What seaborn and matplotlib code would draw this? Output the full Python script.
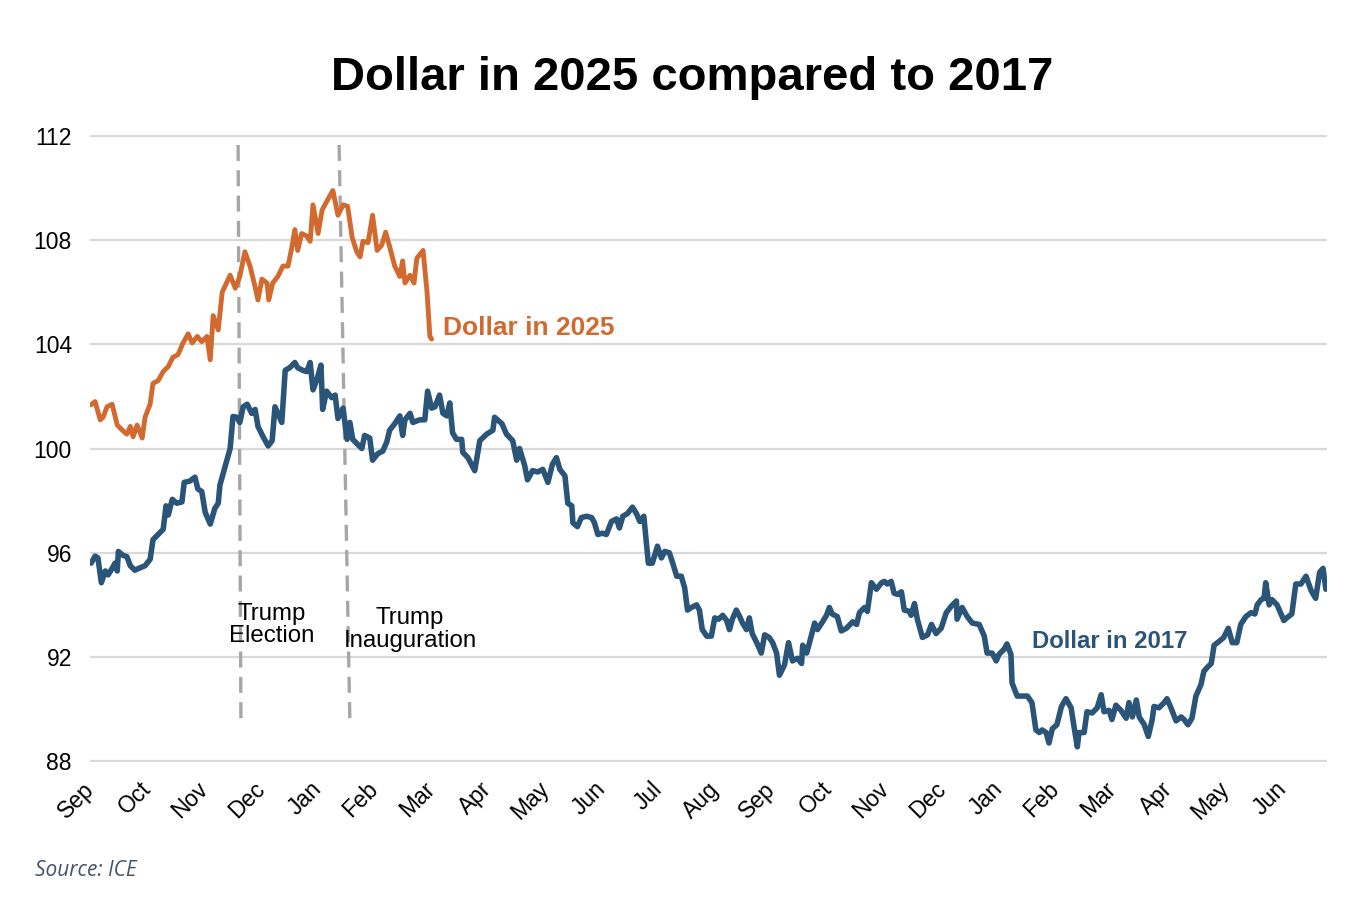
import matplotlib
matplotlib.use("Agg")
import matplotlib.pyplot as plt
import matplotlib.transforms as mtransforms
import pandas as pd
import seaborn as sns

# x positions are in months since the start of September (Sep = 0)
months = ["Sep", "Oct", "Nov", "Dec", "Jan", "Feb", "Mar", "Apr", "May", "Jun", "Jul",
          "Aug", "Sep", "Oct", "Nov", "Dec", "Jan", "Feb", "Mar", "Apr", "May", "Jun"]

# Dollar in 2025 (DXY, Sep 2024 - Mar 2025)
m2025 = [0.00, 0.07, 0.16, 0.21, 0.28, 0.37, 0.46, 0.55, 0.63, 0.69, 0.74, 0.81, 0.90, 0.95,
         1.04, 1.09, 1.18, 1.27, 1.36, 1.44, 1.53, 1.62, 1.71, 1.78, 1.87, 1.95, 2.04, 2.10,
         2.15, 2.24, 2.31, 2.45, 2.54, 2.62, 2.71, 2.80, 2.89, 2.94, 3.01, 3.10, 3.13, 3.20,
         3.29, 3.38, 3.47, 3.54, 3.59, 3.64, 3.71, 3.80, 3.86, 3.91, 4.00, 4.07, 4.17, 4.26,
         4.35, 4.44, 4.52, 4.60, 4.68, 4.74, 4.79, 4.88, 4.96, 5.04, 5.12, 5.19, 5.26, 5.35,
         5.44, 5.49, 5.53, 5.62, 5.69, 5.74, 5.85, 5.92, 5.97, 6.00]
dxy2025 = [101.68, 101.8, 101.1, 101.2, 101.6, 101.7, 100.9, 100.7, 100.55, 100.85, 100.45,
           100.9, 100.4, 101.2, 101.7, 102.5, 102.6, 102.95, 103.15, 103.5, 103.6, 104.05,
           104.4, 104.05, 104.3, 104.1, 104.3, 103.4, 105.1, 104.55, 106.0, 106.65, 106.15,
           106.6, 107.55, 107.0, 106.2, 105.7, 106.5, 106.35, 105.7, 106.35, 106.6, 107.0,
           107.0, 107.75, 108.4, 107.6, 108.25, 108.15, 107.95, 109.35, 108.25, 109.15,
           109.55, 109.9, 108.95, 109.35, 109.3, 108.1, 107.55, 107.35, 107.95, 107.9,
           108.95, 107.6, 107.8, 108.3, 107.75, 107.0, 106.6, 107.2, 106.35, 106.65, 106.35,
           107.3, 107.6, 106.0, 104.3, 104.2]

# Dollar in 2017 (DXY, Sep 2016 - Jun 2018)
m2017 = [0.00, 0.07, 0.12, 0.18, 0.25, 0.30, 0.37, 0.42, 0.46, 0.48, 0.56, 0.63, 0.69, 0.77,
         0.86, 0.95, 1.04, 1.09, 1.18, 1.27, 1.32, 1.36, 1.43, 1.51, 1.60, 1.64, 1.74, 1.83,
         1.88, 1.95, 2.01, 2.10, 2.18, 2.24, 2.27, 2.36, 2.45, 2.50, 2.57, 2.62, 2.68, 2.75,
         2.83, 2.89, 2.94, 3.03, 3.12, 3.19, 3.24, 3.29, 3.36, 3.42, 3.50, 3.59, 3.64, 3.73,
         3.80, 3.86, 3.91, 3.98, 4.05, 4.08, 4.15, 4.24, 4.30, 4.35, 4.44, 4.51, 4.56, 4.61,
         4.70, 4.77, 4.82, 4.91, 4.96, 5.05, 5.14, 5.21, 5.26, 5.35, 5.44, 5.49, 5.53, 5.62,
         5.67, 5.79, 5.88, 5.93, 6.00, 6.06, 6.14, 6.20, 6.27, 6.32, 6.37, 6.44, 6.53, 6.55,
         6.64, 6.76, 6.85, 6.97, 7.08, 7.11, 7.24, 7.32, 7.43, 7.50, 7.55, 7.64, 7.69, 7.78,
         7.87, 7.96, 8.05, 8.13, 8.20, 8.26, 8.35, 8.40, 8.47, 8.49, 8.57, 8.64, 8.73, 8.82,
         8.87, 8.93, 9.01, 9.08, 9.17, 9.26, 9.31, 9.37, 9.45, 9.54, 9.61, 9.67, 9.74, 9.79,
         9.82, 9.89, 9.98, 10.05, 10.11, 10.19, 10.25, 10.32, 10.40, 10.46, 10.51, 10.58,
         10.67, 10.72, 10.77, 10.85, 10.93, 10.99, 11.06, 11.13, 11.20, 11.25, 11.30, 11.37,
         11.43, 11.48, 11.55, 11.60, 11.65, 11.73, 11.81, 11.87, 11.95, 12.01, 12.08, 12.13,
         12.22, 12.29, 12.36, 12.45, 12.52, 12.54, 12.61, 12.66, 12.75, 12.80, 12.89, 12.96,
         13.01, 13.06, 13.15, 13.22, 13.31, 13.42, 13.49, 13.54, 13.63, 13.68, 13.75, 13.84,
         13.93, 13.98, 14.03, 14.10, 14.15, 14.21, 14.28, 14.33, 14.42, 14.45, 14.51, 14.56,
         14.65, 14.74, 14.81, 14.89, 14.98, 15.07, 15.16, 15.25, 15.26, 15.35, 15.44, 15.53,
         15.65, 15.74, 15.79, 15.88, 15.95, 16.00, 16.09, 16.14, 16.21, 16.23, 16.32, 16.41,
         16.50, 16.58, 16.65, 16.71, 16.76, 16.83, 16.88, 16.94, 17.02, 17.10, 17.18, 17.27,
         17.32, 17.38, 17.41, 17.50, 17.55, 17.64, 17.73, 17.80, 17.85, 17.94, 17.99, 18.06,
         18.15, 18.24, 18.29, 18.35, 18.42, 18.47, 18.56, 18.63, 18.70, 18.73, 18.82, 18.91,
         18.96, 19.03, 19.12, 19.21, 19.26, 19.33, 19.40, 19.47, 19.56, 19.61, 19.67, 19.74,
         19.79, 19.88, 19.96, 20.04, 20.11, 20.19, 20.26, 20.35, 20.44, 20.51, 20.55, 20.62,
         20.67, 20.70, 20.76, 20.81, 20.90, 20.97, 21.02, 21.07, 21.16, 21.23, 21.32, 21.41,
         21.50, 21.58, 21.65, 21.71, 21.76]
dxy2017 = [95.6, 95.87, 95.8, 94.85, 95.3, 95.15, 95.4, 95.6, 95.3, 96.05, 95.9, 95.85, 95.5,
           95.33, 95.42, 95.5, 95.75, 96.5, 96.7, 96.9, 97.8, 97.45, 98.05, 97.9, 97.95, 98.7,
           98.75, 98.9, 98.45, 98.35, 97.55, 97.1, 97.7, 97.9, 98.6, 99.3, 100.0, 101.23,
           101.2, 101.0, 101.6, 101.7, 101.35, 101.5, 100.85, 100.45, 100.1, 100.3, 101.6,
           101.35, 101.0, 103.0, 103.1, 103.3, 103.1, 103.0, 102.95, 103.3, 102.25, 102.65,
           103.2, 101.5, 102.2, 101.95, 102.05, 101.15, 101.55, 100.35, 101.0, 100.35, 100.15,
           100.0, 100.5, 100.4, 99.55, 99.8, 99.9, 100.25, 100.7, 100.95, 101.25, 100.5, 101.1,
           101.35, 101.0, 101.1, 101.1, 102.2, 101.55, 101.6, 102.05, 101.35, 101.25, 101.75,
           100.6, 100.35, 100.35, 99.85, 99.65, 99.15, 100.3, 100.55, 100.7, 101.2, 100.95,
           100.55, 100.3, 99.55, 100.0, 99.35, 98.8, 99.15, 99.1, 99.2, 98.7, 99.4, 99.65,
           99.2, 98.95, 97.9, 97.8, 97.15, 97.0, 97.35, 97.4, 97.35, 97.15, 96.7, 96.75, 96.7,
           97.2, 97.3, 96.95, 97.4, 97.5, 97.75, 97.5, 97.2, 97.4, 96.25, 95.6, 95.6, 96.25,
           95.8, 96.05, 96.0, 95.6, 95.1, 95.1, 94.65, 93.8, 93.9, 94.0, 93.8, 93.05, 92.8,
           92.8, 93.5, 93.45, 93.6, 93.4, 93.05, 93.45, 93.8, 93.55, 93.3, 93.05, 93.5, 92.9,
           92.55, 92.15, 92.85, 92.75, 92.55, 92.15, 91.3, 91.7, 92.55, 91.85, 91.95, 91.75,
           92.45, 92.15, 92.55, 93.3, 93.05, 93.35, 93.6, 93.9, 93.65, 93.55, 93.0, 93.1,
           93.35, 93.25, 93.7, 93.9, 93.75, 94.85, 94.6, 94.85, 94.9, 94.8, 94.9, 94.45, 94.4,
           94.5, 93.8, 93.75, 93.6, 94.05, 93.45, 92.75, 92.85, 93.25, 92.9, 93.1, 93.7, 93.95,
           94.15, 93.45, 93.9, 93.55, 93.3, 93.25, 92.8, 92.15, 92.15, 91.85, 92.1, 92.3, 92.5,
           92.1, 91.0, 90.5, 90.5, 90.5, 90.25, 89.2, 89.1, 89.2, 89.1, 88.7, 89.25, 89.4,
           90.1, 90.4, 90.05, 89.35, 88.55, 89.1, 89.1, 89.9, 89.85, 90.05, 90.55, 89.9, 89.95,
           89.6, 90.15, 89.95, 89.65, 90.25, 89.7, 90.35, 89.7, 89.4, 88.95, 89.6, 90.1, 90.05,
           90.25, 90.4, 90.05, 89.55, 89.7, 89.6, 89.4, 89.65, 90.5, 90.95, 91.45, 91.6, 91.75,
           92.45, 92.6, 92.75, 93.1, 92.55, 92.55, 93.25, 93.55, 93.7, 93.65, 94.0, 94.2,
           94.25, 94.85, 94.0, 94.2, 94.0, 93.65, 93.4, 93.5, 93.65, 94.8, 94.8, 95.1, 94.55,
           94.25, 95.25, 95.4, 94.6]

# event markers (slanted dashed lines as drawn in the original)
election_x = [2.59, 2.64]
inauguration_x = [4.37, 4.56]
event_y = [111.65, 89.5]

ORANGE = "#D2692F"
BLUE = "#2A5578"
GRID = "#D9D9D9"

sns.set_style("white")
plt.rcParams["font.family"] = ["Liberation Sans", "DejaVu Sans"]
plt.rcParams["text.color"] = "black"

df25 = pd.DataFrame({"month": m2025, "dxy": dxy2025})
df17 = pd.DataFrame({"month": m2017, "dxy": dxy2017})

fig = plt.figure(figsize=(13.64, 8.98), dpi=100)
ax = fig.add_axes([90 / 1364, 1 - 762 / 898, 1237 / 1364, 627 / 898])

for xs in (election_x, inauguration_x):
    ax.plot(xs, event_y, color="#A6A6A6", lw=2.4, ls=(0, (4.8, 2.8)), zorder=2)

sns.lineplot(data=df17, x="month", y="dxy", ax=ax, color=BLUE, lw=4.0,
             estimator=None, sort=False, zorder=3)
sns.lineplot(data=df25, x="month", y="dxy", ax=ax, color=ORANGE, lw=3.5,
             estimator=None, sort=False, zorder=4)

ax.set_xlim(-0.02, 21.78)
ax.set_ylim(87.97, 112.03)
ax.set_yticks(range(88, 113, 4))
ax.set_xticks(range(len(months)))
ax.set_xticklabels(months, rotation=45, ha="right", va="center", rotation_mode="anchor")
offset = mtransforms.ScaledTranslation(0.08, 0, fig.dpi_scale_trans)
for lab in ax.get_xticklabels():
    lab.set_transform(lab.get_transform() + offset)
ax.tick_params(axis="both", length=0, labelsize=16.5, colors="black")
ax.tick_params(axis="y", pad=13)
ax.tick_params(axis="x", pad=17)
ax.grid(axis="y", color=GRID, lw=1.6)
ax.grid(axis="x", visible=False)
for s in ax.spines.values():
    s.set_visible(False)
ax.set_xlabel("")
ax.set_ylabel("")

ax.text(6.2, 104.63, "Dollar in 2025", color=ORANGE, fontsize=19, fontweight="bold",
        ha="left", va="center")
ax.text(16.58, 92.58, "Dollar in 2017", color=BLUE, fontsize=17.2, fontweight="bold",
        ha="left", va="center")
ax.text(3.19, 93.23, "Trump\nElection", fontsize=17.3, color="black", ha="center",
        va="center", multialignment="center", linespacing=1.05)
ax.text(5.62, 93.04, "Trump\nInauguration", fontsize=17.3, color="black", ha="center",
        va="center", multialignment="center", linespacing=1.05)

fig.text(692 / 1364, 1 - 78 / 898, "Dollar in 2025 compared to 2017", fontsize=34,
         fontweight="bold", color="black", ha="center", va="center")
fig.text(35 / 1364, 1 - 871 / 898, "Source: ICE", fontsize=15, style="italic",
         color="#44546A", family=["Open Sans", "DejaVu Sans"], ha="left", va="center")

fig.savefig("out.png", dpi=100)
